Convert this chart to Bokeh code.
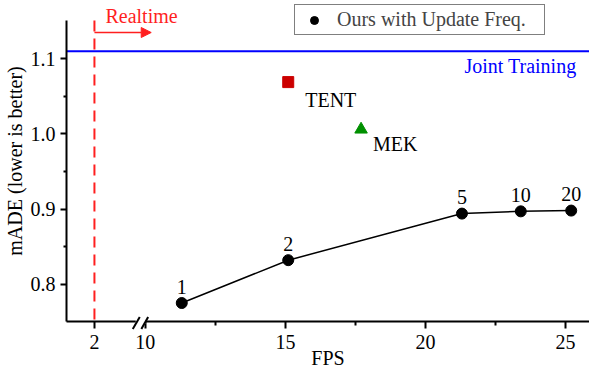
from bokeh.plotting import figure
from bokeh.models import (ColumnDataSource, Span, Label, Arrow, NormalHead,
                          Legend, LegendItem, FixedTicker, Range1d)
from bokeh.embed import file_html
from bokeh.resources import INLINE
from bokeh.core.properties import value

# ---------------- data ----------------
ours_fps = [11.3, 15.1, 21.3, 23.4, 25.2]
ours_made = [0.775, 0.832, 0.894, 0.897, 0.898]
ours_freq = ["1", "2", "5", "10", "20"]
tent_fps = [15.1]
tent_made = [1.069]
mek_fps = [17.7]
mek_made = [1.006]
joint_made = 1.11
realtime_fps = 2
x_ticks = [2, 10, 15, 20, 25]
x_minor = [12.5, 17.5, 22.5]
y_ticks = [0.8, 0.9, 1.0, 1.1]
y_minor = [0.85, 0.95, 1.05]

# broken x axis: values below BREAK are compressed
BREAK = 10.0
COMPRESS = 0.2271


def ax(v):
    return v if v >= BREAK else BREAK - (BREAK - v) * COMPRESS


FONT = "Liberation Serif"
RED = "#ff1f1f"
X0, X1 = 7.186, 25.853
Y0, Y1 = 0.7504, 1.1776
Y_SPINE = 1.151          # top end of the drawn y axis line
W, H = 589, 371
BL, BR, BT, BB = 65, 0, 0, 50
FW, FH = W - BL - BR, H - BT - BB
XPX = (X1 - X0) / FW
YPX = (Y1 - Y0) / FH

p = figure(width=W, height=H, output_backend="svg", toolbar_location=None,
           x_range=Range1d(X0, X1), y_range=Range1d(Y0, Y1),
           min_border_left=BL, min_border_right=BR, min_border_top=BT,
           min_border_bottom=BB)
p.outline_line_color = None
p.grid.visible = False
p.background_fill_color = "white"

# axes
p.xaxis.ticker = FixedTicker(ticks=[ax(t) for t in x_ticks], minor_ticks=x_minor)
p.xaxis.major_label_overrides = {float(ax(t)): str(t) for t in x_ticks}
p.yaxis.ticker = FixedTicker(ticks=y_ticks, minor_ticks=y_minor)
p.yaxis.major_label_overrides = {float(t): f"{t:.1f}" for t in y_ticks}
for a in (p.xaxis[0], p.yaxis[0]):
    a.axis_line_width = 2
    a.axis_line_color = "black"
    a.major_tick_line_width = 2
    a.minor_tick_line_width = 2
    a.major_tick_in = 0
    a.minor_tick_in = 0
    a.major_label_text_font = FONT
    a.major_label_text_font_size = "20px"
    a.major_label_text_color = "black"
    a.axis_label_text_font = FONT
    a.axis_label_text_font_style = "normal"
    a.axis_label_text_color = "black"
p.xaxis.major_tick_out = 7
p.xaxis.minor_tick_out = 4
p.xaxis.major_label_standoff = 6
p.xaxis.axis_label = "FPS"
p.xaxis.axis_label_text_font_size = "20px"
p.xaxis.axis_label_standoff = -5
p.yaxis.major_tick_out = 6
p.yaxis.minor_tick_out = 3
p.yaxis.major_label_standoff = 5
p.yaxis.axis_label = "mADE (lower is better)"
p.yaxis.axis_label_text_font_size = "20px"
p.yaxis.axis_label_standoff = 2
p.yaxis.axis_line_color = None   # drawn below, ending at Y_SPINE

# y axis line (stops below the legend area, as in the original)
p.segment(x0=[X0], y0=[Y0], x1=[X0], y1=[Y_SPINE], line_color="black",
          line_width=2, level="overlay")

# axis break marks
bx = ax(9.28)
p.segment(x0=[bx - 5 * XPX], y0=[Y0], x1=[bx + 5 * XPX], y1=[Y0],
          line_color="white", line_width=4, level="overlay")
p.segment(x0=[bx - 8 * XPX, bx + 0.6 * XPX], y0=[Y0 - 7.5 * YPX] * 2,
          x1=[bx - 1 * XPX, bx + 7.4 * XPX], y1=[Y0 + 4.5 * YPX] * 2,
          line_color="black", line_width=2, level="overlay")

# realtime line & arrow
p.segment(x0=[ax(realtime_fps)], y0=[Y_SPINE], x1=[ax(realtime_fps)], y1=[Y0],
          line_color=RED, line_width=2, line_dash="11 7")
p.add_layout(Arrow(end=NormalHead(size=10, fill_color=RED, line_color=RED),
                   x_start=ax(realtime_fps), y_start=1.135, x_end=10.21, y_end=1.135,
                   line_color=RED, line_width=1.5))
p.add_layout(Label(x=ax(realtime_fps), y=1.1576, x_offset=11, text="Realtime",
                   text_color=RED, text_font=FONT, text_font_size="20px",
                   text_baseline="middle"))

# joint training
p.add_layout(Span(location=joint_made, dimension="width", line_color="#0000ff",
                  line_width=2))
p.add_layout(Label(x=X1, y=joint_made, x_offset=-13, y_offset=-15,
                   text="Joint Training", text_color="#0000ff",
                   text_font=FONT, text_font_size="20px",
                   text_align="right", text_baseline="middle"))

# TENT / MEK
p.scatter(tent_fps, tent_made, marker="square", size=11, color="#cc0000")
p.add_layout(Label(x=tent_fps[0], y=tent_made[0], x_offset=17, y_offset=-18,
                   text="TENT", text_color="black", text_font=FONT,
                   text_font_size="20px", text_baseline="middle"))
p.scatter(mek_fps, mek_made, marker="triangle", size=12.5, color="#009000")
p.add_layout(Label(x=mek_fps[0], y=mek_made[0], x_offset=12, y_offset=-15,
                   text="MEK", text_color="black", text_font=FONT,
                   text_font_size="20px", text_baseline="middle"))

# ours
src = ColumnDataSource(dict(fps=ours_fps, made=ours_made, freq=ours_freq))
p.line("fps", "made", source=src, line_color="black", line_width=1.5)
circ = p.scatter("fps", "made", source=src, marker="circle", size=11,
                 color="black")
p.text("fps", "made", text="freq", source=src, text_align="center",
       text_baseline="middle", y_offset=-16.5, text_font=value(FONT),
       text_font_size="20px", text_color="black")

legend = Legend(items=[LegendItem(label="Ours with Update Freq.", renderers=[circ])],
                location=(228, 286), padding=3, spacing=0, margin=0,
                glyph_width=32, glyph_height=20, label_standoff=7,
                label_width=204, label_height=20,
                label_text_font=FONT, label_text_font_size="20px",
                border_line_color="black", border_line_width=1,
                background_fill_alpha=1.0)
p.add_layout(legend)

open("out.html", "w").write(file_html(p, INLINE))
